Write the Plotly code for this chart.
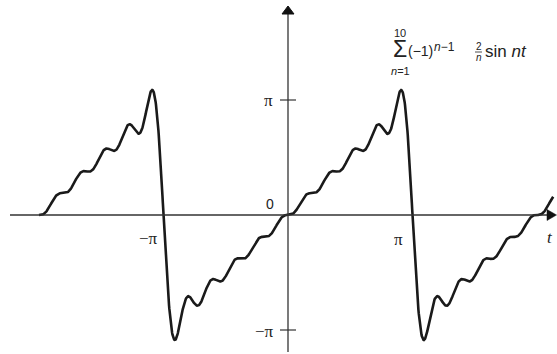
import numpy as np
import plotly.graph_objects as go

# partial sum shown in the label: sum_{n=1}^{10} (-1)^(n-1) (2/n) sin(nt)
harmonics = [1, 2, 3, 4, 5, 6, 7, 8, 9, 10]
coefficients = [2.0, -1.0, 2 / 3, -0.5, 0.4, -1 / 3, 2 / 7, -0.25, 2 / 9, -0.2]
t_start = -2.0 * np.pi
t_end = 2.13 * np.pi

t = np.linspace(t_start, t_end, 1500)
y = np.zeros_like(t)
for n, c in zip(harmonics, coefficients):
    y += c * np.sin(n * t)

W, H = 557, 354
x0px, y0px = 288, 215    # origin, in window pixels
sx = 124.5 / np.pi   # pixels per unit along t
sy = 115.0 / np.pi   # pixels per unit along y


def X(p):
    return (p - x0px) / sx


def Y(p):
    return (y0px - p) / sy


fig = go.Figure()
fig.add_trace(go.Scatter(x=t, y=y, mode='lines',
                         line=dict(color='#1a1a1a', width=2.6),
                         hoverinfo='skip', showlegend=False))

axis_col = '#333333'
shapes = [
    # x axis + arrow
    dict(type='line', x0=X(10), x1=X(550), y0=0, y1=0, line=dict(color=axis_col, width=1.3)),
    dict(type='path', path=f'M {X(556.5)} {Y(215)} L {X(547)} {Y(209.5)} L {X(547)} {Y(220.5)} Z',
         fillcolor='#111111', line=dict(color='#111111', width=0.5), layer='above'),
    # y axis + arrow
    dict(type='line', x0=0, x1=0, y0=Y(352), y1=Y(12), line=dict(color=axis_col, width=1.3)),
    dict(type='path', path=f'M {X(288)} {Y(6)} L {X(282)} {Y(14)} L {X(294)} {Y(14)} Z',
         fillcolor='#111111', line=dict(color='#111111', width=1)),
    # y ticks at pi and -pi
    dict(type='line', x0=X(280), x1=X(296), y0=np.pi, y1=np.pi, line=dict(color=axis_col, width=1.2)),
    dict(type='line', x0=X(280), x1=X(296), y0=-np.pi, y1=-np.pi, line=dict(color=axis_col, width=1.2)),
    # fraction bar of 2/n
    dict(type='line', x0=X(475), x1=X(482), y0=Y(52), y1=Y(52), line=dict(color='#222222', width=0.8)),
]

serif = 'Liberation Serif, Times New Roman, serif'
sans = 'Liberation Sans, Arial, sans-serif'


def label(px, py, text, size=15, family=serif, anchor='center'):
    return dict(x=X(px), y=Y(py), text=text, showarrow=False,
                font=dict(family=family, size=size, color='#222222'),
                xanchor=anchor, yanchor='middle')


annotations = [
    label(268, 100, 'π', 17),
    label(264, 331, '−π', 17),
    label(148, 238, '−π', 17),
    label(398, 239, 'π', 17),
    label(270, 204, '0', 14, sans),
    label(550, 237, '<i>t</i>', 17),
    # formula
    label(400, 49, 'Σ', 23, sans),
    label(400, 33, '10', 11, sans),
    label(400, 71, '<i>n</i>=1', 11, sans),
    label(406, 51, '(−1)', 14, sans, 'left'),
    label(432, 47, '<i>n</i>−1', 12, sans, 'left'),
    label(478.5, 46, '2', 10, sans),
    label(478.5, 57, '<i>n</i>', 10, sans),
    label(483, 51, 'sin <i>nt</i>', 17, sans, 'left'),
]

fig.update_layout(
    width=W, height=H,
    margin=dict(l=0, r=0, t=0, b=0),
    paper_bgcolor='white', plot_bgcolor='white',
    xaxis=dict(range=[X(0), X(W)], visible=False, fixedrange=True),
    yaxis=dict(range=[Y(H), Y(0)], visible=False, fixedrange=True),
    shapes=shapes,
    annotations=annotations,
)

# drop the default page margin so the figure fills the window exactly
fig.write_html("out.html", config={'displayModeBar': False},
               post_script="document.body.style.margin='0';document.body.style.overflow='hidden';")
